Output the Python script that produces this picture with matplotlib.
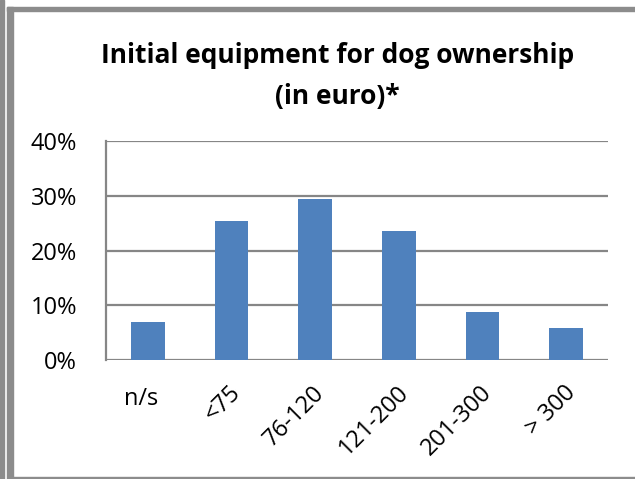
import numpy as np
import matplotlib.pyplot as plt
from matplotlib.patches import Rectangle
from matplotlib.ticker import FuncFormatter

categories = ["n/s", "<75", "76-120", "121-200", "201-300", "> 300"]
shares = [6.9, 25.4, 29.4, 23.6, 8.8, 5.8]
label_rotation = [0, 45, 45, 45, 45, 45]
yticks = [0, 10, 20, 30, 40]

title_lines = ["Initial equipment for dog ownership", "(in euro)*"]

plt.rcParams["font.family"] = ["Open Sans", "DejaVu Sans"]

fig = plt.figure(figsize=(6.35, 4.79), dpi=100)
W, H = 635, 479

# outer frame like the source screenshot
frame_col = "#8c8c8c"
fig.patches.append(Rectangle((0, 0), 4 / W, 1, transform=fig.transFigure, color=frame_col, zorder=0))
fig.patches.append(Rectangle((7 / W, 0), 6 / W, 1 - 7 / H, transform=fig.transFigure, color=frame_col, zorder=0))
fig.patches.append(Rectangle((7 / W, 1 - 11 / H), 1 - 7 / W, 4 / H, transform=fig.transFigure, color=frame_col, zorder=0))
fig.patches.append(Rectangle((13 / W, 0), 1 - 13 / W, 2 / H, transform=fig.transFigure, color=frame_col, zorder=0))

# plot area: x 106..608, y 141..360 (pixels from top)
ax = fig.add_axes([106 / W, 1 - 360 / H, (608 - 106) / W, (360 - 141) / H])

x = np.arange(len(categories))
ax.bar(x, shares, width=0.4, color="#4f81bd", zorder=3)

ax.set_xlim(-0.5, len(categories) - 0.5)
ax.set_ylim(0, 40)
ax.set_yticks(yticks)
ax.yaxis.set_major_formatter(FuncFormatter(lambda v, p: f"{v:.0f}%"))
ax.grid(axis="y", color="#868686", linewidth=1.6, zorder=1)

for s in ["top", "right", "bottom"]:
    ax.spines[s].set_visible(False)
ax.spines["left"].set_color("#868686")
ax.spines["left"].set_linewidth(1.6)

ax.tick_params(axis="y", length=0, pad=21, labelsize=17)
ax.tick_params(axis="x", length=0)
ax.set_xticks(x)
ax.set_xticklabels([])

for i, (cat, rot) in enumerate(zip(categories, label_rotation)):
    if rot == 0:
        ax.text(i - 0.08, -8.2, cat, ha="center", va="baseline", fontsize=17)
    else:
        ax.text(i - 0.03, -3.8, cat, ha="right", va="top", rotation=rot,
                rotation_mode="anchor", fontsize=17)

fig.text(337.5 / W, 1 - 63 / H, title_lines[0], ha="center", va="baseline",
         fontsize=19, fontweight="bold")
fig.text(337.5 / W, 1 - 104 / H, title_lines[1], ha="center", va="baseline",
         fontsize=19, fontweight="bold")

fig.savefig("out.png", dpi=100)
